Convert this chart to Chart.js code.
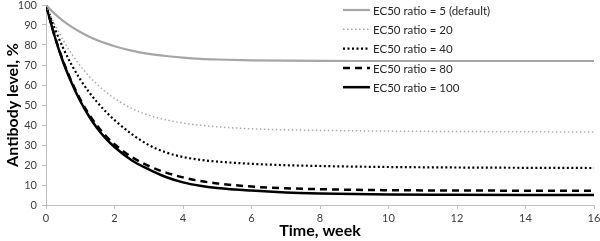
<!DOCTYPE html>
<html>
<head>
<meta charset="utf-8">
<script src="https://cdn.jsdelivr.net/npm/chart.js@4.4.1/dist/chart.umd.min.js"></script>
<style>
  html, body { margin: 0; padding: 0; background: #fff; }
  #wrap { width: 600px; height: 241px; }
</style>
</head>
<body>
<div id="wrap"><canvas id="grafico"></canvas></div>
<script>
// Tempo (semanas) em que as curvas foram lidas
const weeks = [0, 0.25, 0.5, 0.75, 1, 1.25, 1.5, 1.75, 2, 2.5, 3, 3.5, 4, 4.5, 5, 6, 7, 8, 9, 10, 12, 14, 16];

// Nível de anticorpos (%) para cada razão EC50
const ec50_5   = [100, 95.7, 92.1, 89.1, 86.5, 84.3, 82.4, 80.8, 79.4, 77.2, 75.6, 74.5, 73.7, 73.1, 72.75, 72.35, 72.15, 72.05, 72.0, 72.0, 72.0, 72.0, 72.0];
const ec50_20  = [100, 90.5, 82.4, 75.5, 69.6, 64.5, 60.2, 56.5, 53.3, 48.3, 44.9, 42.6, 41.0, 39.9, 39.1, 38.1, 37.6, 37.3, 37.1, 36.95, 36.75, 36.6, 36.5];
const ec50_40  = [100, 88.5, 78.5, 70.0, 62.8, 56.6, 51.3, 46.6, 42.5, 35.5, 30.0, 26.3, 24.0, 22.6, 21.7, 20.6, 19.9, 19.5, 19.2, 19.0, 18.75, 18.6, 18.5];
const ec50_80  = [100, 84.7, 72.0, 61.6, 52.8, 45.5, 39.5, 34.5, 30.4, 24.0, 19.5, 16.2, 13.8, 12.0, 10.8, 9.2, 8.4, 7.9, 7.6, 7.4, 7.25, 7.15, 7.1];
const ec50_100 = [100, 84.5, 71.5, 61.0, 52.0, 44.5, 38.3, 33.2, 29.0, 22.4, 17.8, 14.0, 11.3, 9.6, 8.5, 7.2, 6.3, 5.8, 5.5, 5.3, 5.15, 5.05, 5.0];

const seriesLabels = ['EC50 ratio = 5 (default)', 'EC50 ratio = 20', 'EC50 ratio = 40', 'EC50 ratio = 80', 'EC50 ratio = 100'];
const xTicks = [0, 2, 4, 6, 8, 10, 12, 14, 16];
const yTicks = [0, 10, 20, 30, 40, 50, 60, 70, 80, 90, 100];

const FONT = 'Lato, "Open Sans", sans-serif';

function pontos(vals) {
    return weeks.map((w, i) => ({ x: w, y: vals[i] }));
}

// Legenda desenhada dentro da área do gráfico, à direita
const legendaInterna = {
    id: 'legendaInterna',
    afterDraw(chart) {
        const c = chart.ctx;
        const x0 = 343, lineLen = 27, y0 = 10, step = 19.3;
        c.save();
        c.font = '11.5px ' + FONT;
        c.textBaseline = 'middle';
        c.fillStyle = '#262626';
        chart.data.datasets.forEach((ds, i) => {
            const y = y0 + i * step;
            c.beginPath();
            c.strokeStyle = ds.borderColor;
            c.lineWidth = ds.borderWidth;
            c.setLineDash(ds.borderDash || []);
            c.moveTo(x0, y);
            c.lineTo(x0 + lineLen, y);
            c.stroke();
            c.setLineDash([]);
            c.fillText(ds.label, x0 + lineLen + 3, y + 1);
        });
        c.restore();
    }
};

const ctx = document.getElementById('grafico').getContext('2d');

new Chart(ctx, {
    type: 'line',
    data: {
        datasets: [
            { label: seriesLabels[0], data: pontos(ec50_5),   borderColor: '#a6a6a6', borderWidth: 2.2 },
            { label: seriesLabels[1], data: pontos(ec50_20),  borderColor: '#ababab', borderWidth: 1.5, borderDash: [1.5, 2.5] },
            { label: seriesLabels[2], data: pontos(ec50_40),  borderColor: '#000000', borderWidth: 2.2, borderDash: [2, 2.5] },
            { label: seriesLabels[3], data: pontos(ec50_80),  borderColor: '#000000', borderWidth: 2.5, borderDash: [7, 5] },
            { label: seriesLabels[4], data: pontos(ec50_100), borderColor: '#000000', borderWidth: 2.5 }
        ]
    },
    options: {
        responsive: true,
        maintainAspectRatio: false,
        animation: false,
        layout: { padding: { top: 5, right: 6, left: 0, bottom: 0 } },
        elements: {
            point: { radius: 0 },
            line: { cubicInterpolationMode: 'monotone', fill: false }
        },
        plugins: {
            legend: { display: false },
            tooltip: { enabled: false }
        },
        scales: {
            x: {
                type: 'linear',
                min: 0,
                max: 16,
                afterBuildTicks: s => { s.ticks = xTicks.map(v => ({ value: v })); },
                afterFit: s => { s.height = 36; s.paddingLeft = 0; s.paddingRight = 0; },
                ticks: { color: '#404040', font: { size: 11, family: FONT }, padding: 3, maxRotation: 0 },
                grid: { drawOnChartArea: false, drawTicks: true, tickLength: 4, color: '#bfbfbf' },
                border: { color: '#bfbfbf' },
                title: { display: true, text: 'Time, week', color: '#000', font: { size: 16, weight: 'bold', family: FONT }, padding: { top: 0, bottom: 1 } }
            },
            y: {
                min: 0,
                max: 100,
                afterBuildTicks: s => { s.ticks = yTicks.map(v => ({ value: v })); },
                afterFit: s => { s.width = 46; s.paddingTop = 0; s.paddingBottom = 0; },
                ticks: { color: '#404040', font: { size: 11, family: FONT }, padding: 5 },
                grid: { drawOnChartArea: false, drawTicks: true, tickLength: 4, color: '#bfbfbf' },
                border: { color: '#bfbfbf' },
                title: { display: true, text: 'Antibody level, %', color: '#000', font: { size: 16, weight: 'bold', family: FONT }, padding: { top: 3, bottom: 0 } }
            }
        }
    },
    plugins: [legendaInterna]
});
</script>
</body>
</html>
